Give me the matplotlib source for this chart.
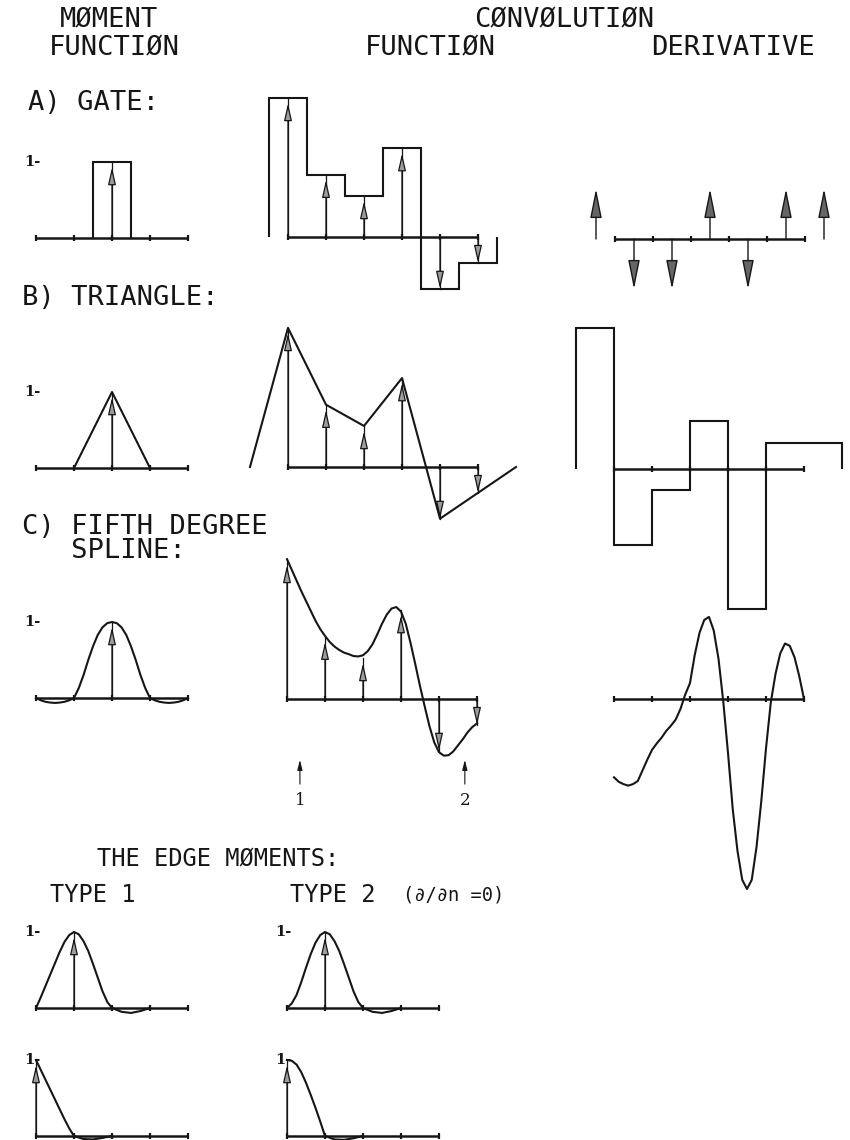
import numpy as np
import matplotlib.pyplot as plt

W, H = 850, 1140
UX, UY = 38.0, 76.0          # pixels per unit step along x, per unit value along y

INK = '#161616'
HEAD = '#9c9c9c'
MONO = 'DejaVu Sans Mono'
SERIF = 'DejaVu Serif'

# sampled moments (same set used for every convolution)
moment_pos = [0, 1, 2, 3, 4, 5]
moments = [1.83, 0.82, 0.54, 1.17, -0.68, -0.34]

# A) gate
gate_edges = [-0.5, 0.5]
gate_val = [1.0]
gate_conv_edges = [-0.5, 0.5, 1.5, 2.5, 3.5, 4.5, 5.5]
jump_pos = [-0.5, 0.5, 1.5, 2.5, 3.5, 4.5, 5.5]
jump_sign = [1, -1, -1, 1, -1, 1, 1]

# B) triangle
tri_x = [-1, 0, 1]
tri_y = [0, 1, 0]
tri_conv_x = [-1, 0, 1, 2, 3, 4, 5, 6]
tri_slope_edges = [-1, 0, 1, 2, 3, 4, 5, 6]
tri_slopes = [1.85, -1.0, -0.28, 0.63, -1.84, 0.34, 0.34]

# C) fifth degree spline kernel
spline_x = [-2, -1.875, -1.75, -1.625, -1.5, -1.375, -1.25, -1.125, -1, -0.875, -0.75,
            -0.625, -0.5, -0.375, -0.25, -0.125, 0, 0.125, 0.25, 0.375, 0.5, 0.625, 0.75,
            0.875, 1, 1.125, 1.25, 1.375, 1.5, 1.625, 1.75, 1.875, 2]
spline_y = [0, -0.03, -0.05, -0.06, -0.065, -0.06, -0.05, -0.03, 0, 0.13, 0.30,
            0.50, 0.68, 0.83, 0.93, 0.985, 1.0, 0.985, 0.93, 0.83, 0.68, 0.50, 0.30,
            0.13, 0, -0.03, -0.05, -0.06, -0.065, -0.06, -0.05, -0.03, 0]

step_x = [0, 0.125, 0.25, 0.375, 0.5, 0.625, 0.75, 0.875, 1, 1.125, 1.25, 1.375, 1.5,
          1.625, 1.75, 1.875, 2, 2.125, 2.25, 2.375, 2.5, 2.625, 2.75, 2.875, 3, 3.125,
          3.25, 3.375, 3.5, 3.625, 3.75, 3.875, 4, 4.125, 4.25, 4.375, 4.5, 4.625, 4.75,
          4.875, 5]
conv_y = [1.84, 1.70, 1.56, 1.42, 1.29, 1.16, 1.03, 0.92, 0.83, 0.75, 0.69, 0.645, 0.61,
          0.59, 0.565, 0.56, 0.575, 0.63, 0.72, 0.85, 0.99, 1.11, 1.19, 1.21, 1.15, 0.99,
          0.74, 0.46, 0.17, -0.10, -0.36, -0.57, -0.70, -0.745, -0.74, -0.69, -0.61, -0.53,
          -0.44, -0.37, -0.32]
deriv_y = [-1.03, -1.09, -1.12, -1.14, -1.12, -1.08, -0.94, -0.80, -0.67, -0.585, -0.51,
           -0.42, -0.35, -0.27, -0.13, 0.06, 0.21, 0.58, 0.87, 1.04, 1.08, 0.90, 0.53, -0.03,
           -0.71, -1.45, -2.0, -2.38, -2.5, -2.38, -1.95, -1.35, -0.65, -0.05, 0.33, 0.60,
           0.73, 0.70, 0.55, 0.30, 0.0]

# points marked 1 and 2 under the spline convolution
mark_x = [0.34, 4.68]
mark_txt = ['1', '2']

# edge moments
edge_x = [0, 0.125, 0.25, 0.375, 0.5, 0.625, 0.75, 0.875, 1, 1.125, 1.25, 1.375, 1.5,
          1.625, 1.75, 1.875, 2, 2.25, 2.5, 2.75, 3]
edge1_top = [0, 0.14, 0.29, 0.44, 0.59, 0.74, 0.87, 0.96, 1.0, 0.97, 0.88, 0.75, 0.58,
             0.40, 0.22, 0.08, 0, -0.05, -0.065, -0.04, 0]
edge2_top = [0, 0.06, 0.17, 0.34, 0.53, 0.71, 0.86, 0.96, 1.0, 0.97, 0.88, 0.75, 0.58,
             0.40, 0.22, 0.08, 0, -0.05, -0.065, -0.04, 0]
end_x = [0, 0.125, 0.25, 0.375, 0.5, 0.625, 0.75, 0.875, 1, 1.25, 1.5, 1.75, 2]
edge1_end = [1.0, 0.87, 0.74, 0.61, 0.48, 0.35, 0.22, 0.10, 0, -0.04, -0.045, -0.025, 0]
edge2_end = [1.0, 0.99, 0.94, 0.84, 0.70, 0.54, 0.37, 0.19, 0, -0.045, -0.05, -0.03, 0]

fig = plt.figure(figsize=(W / 100, H / 100), dpi=100)
page = fig.add_axes([0, 0, 1, 1])
page.set_xlim(0, W)
page.set_ylim(H, 0)
page.axis('off')


def panel(ox, oy, xr=(-3, 7), yr=(-3.2, 2.6)):
    # axes with its data origin at pixel (ox, oy) counted from the top left
    left = (ox + xr[0] * UX) / W
    bottom = (H - oy + yr[0] * UY) / H
    ax = fig.add_axes([left, bottom, (xr[1] - xr[0]) * UX / W, (yr[1] - yr[0]) * UY / H])
    ax.set_xlim(*xr)
    ax.set_ylim(*yr)
    ax.axis('off')
    return ax


def axis_line(ax, a, b):
    ticks = np.arange(a, b + 1)
    ax.plot([a, b], [0, 0], color=INK, lw=1.8, solid_capstyle='butt', zorder=3)
    ax.plot(ticks, np.zeros(len(ticks)), ls='none', marker='|', ms=5, mew=1.6,
            color=INK, zorder=3)


def spike(ax, x, v, hl=1.05, hw=0.24, fc=HEAD, lw=0.9):
    lift = 0.07 if v > 0 else 0.0
    ax.plot([x, x], [0, v], color=INK, lw=lw)
    ax.annotate('', xy=(x, v - lift), xytext=(x, 0.0),
                arrowprops=dict(arrowstyle=f'-|>,head_length={hl},head_width={hw}',
                                lw=lw, ec=INK, fc=fc, shrinkA=0, shrinkB=0))


def one_label(ax, a):
    ax.text(a - 0.3, 1.0, '1-', family=SERIF, fontsize=10.5, fontweight='bold',
            ha='left', va='center', color=INK)


def curve(ax, x, y):
    ax.plot(x, y, color=INK, lw=1.5, solid_joinstyle='round')


# column 1: moment functions
ax = panel(112, 238)
axis_line(ax, -2, 2)
ax.stairs(gate_val, gate_edges, baseline=0, color=INK, lw=1.5)
spike(ax, 0, 1.0)
one_label(ax, -2)

ax = panel(112, 468)
axis_line(ax, -2, 2)
curve(ax, tri_x, tri_y)
spike(ax, 0, 1.0)
one_label(ax, -2)

ax = panel(112, 698)
axis_line(ax, -2, 2)
curve(ax, spline_x, spline_y)
spike(ax, 0, 1.0)
one_label(ax, -2)

# column 2: convolution functions
ax = panel(288, 237)
axis_line(ax, 0, 5)
ax.stairs(moments, gate_conv_edges, baseline=0, color=INK, lw=1.5)
for p, m in zip(moment_pos, moments):
    spike(ax, p, m)

ax = panel(288, 467)
axis_line(ax, 0, 5)
curve(ax, tri_conv_x, [0] + moments + [0])
for p, m in zip(moment_pos, moments):
    spike(ax, p, m)

ax = panel(287, 699)
axis_line(ax, 0, 5)
curve(ax, step_x, conv_y)
for p, m in zip(moment_pos, moments):
    spike(ax, p, m)
for mx, mt in zip(mark_x, mark_txt):
    ax.annotate('', xy=(mx, -0.8), xytext=(mx, -1.12),
                arrowprops=dict(arrowstyle='-|>,head_length=0.6,head_width=0.15',
                                lw=0.8, ec=INK, fc=INK, shrinkA=0, shrinkB=0))
    ax.text(mx, -1.34, mt, family=SERIF, fontsize=12, ha='center', va='center', color=INK)

# column 3: derivatives
ax = panel(615, 239)
axis_line(ax, 0, 5)
for p, s in zip(jump_pos, jump_sign):
    ax.annotate('', xy=(p, 0.66 * s), xytext=(p, 0.0),
                arrowprops=dict(arrowstyle='-|>,head_length=1.8,head_width=0.36',
                                lw=1.0, ec=INK, fc='#666666', shrinkA=0, shrinkB=0))

ax = panel(614, 469)
axis_line(ax, 0, 5)
ax.stairs(tri_slopes, tri_slope_edges, baseline=0, color=INK, lw=1.5)

ax = panel(614, 699)
axis_line(ax, 0, 5)
curve(ax, step_x, deriv_y)

# edge moments
for ox, top, end in [(36, edge1_top, edge1_end), (287, edge2_top, edge2_end)]:
    ax = panel(ox, 1008)
    axis_line(ax, 0, 4)
    curve(ax, edge_x, top)
    spike(ax, 1, 1.0)
    one_label(ax, 0)

    ax = panel(ox, 1136)
    axis_line(ax, 0, 4)
    curve(ax, end_x, end)
    spike(ax, 0, 1.0)
    one_label(ax, 0)

# headings
big = dict(family=MONO, fontsize=19.5, color=INK, va='center', ha='left')
page.text(60, 20, 'MØMENT', **big)
page.text(49, 48, 'FUNCTIØN', **big)
page.text(474, 20, 'CØNVØLUTIØN', **big)
page.text(365, 48, 'FUNCTIØN', **big)
page.text(651, 48, 'DERIVATIVE', **big)
page.text(28, 103, 'A) GATE:', **big)
page.text(22, 298, 'B) TRIANGLE:', **big)
page.text(22, 539, 'C) FIFTH DEGREE\n   SPLINE:', linespacing=0.95, **big)

small = dict(family=MONO, fontsize=17, color=INK, va='center', ha='left')
page.text(97, 858, 'THE EDGE MØMENTS:', **small)
page.text(50, 895, 'TYPE 1', **small)
page.text(290, 895, 'TYPE 2', **small)
page.text(403, 895, '(∂/∂n =0)', family=MONO, fontsize=13.5, color=INK, va='center')

fig.savefig('out.png', dpi=100)
